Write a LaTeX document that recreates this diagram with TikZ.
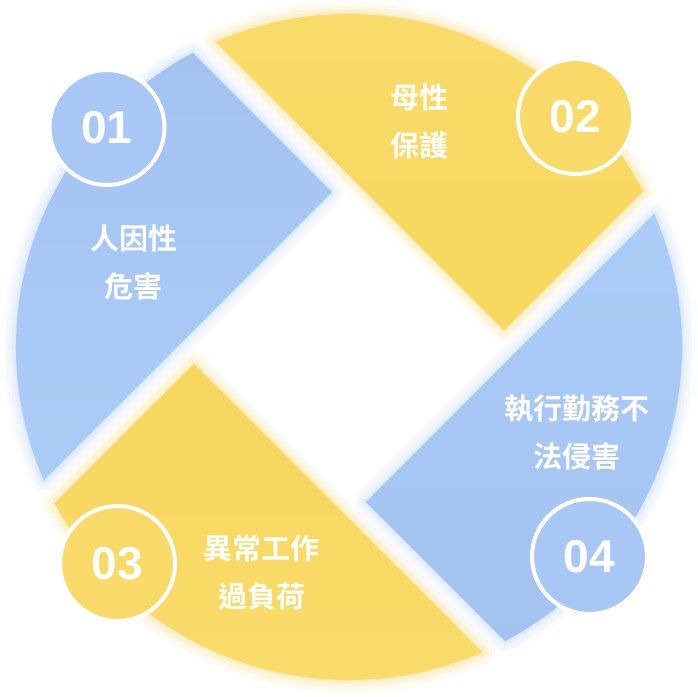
\documentclass[tikz,border=0pt]{standalone}
\usepackage{fontspec}
\newfontfamily\cjk[BoldFont={Noto Sans CJK TC Bold}]{Noto Sans CJK TC}
\newfontfamily\numfont{Liberation Sans}
\definecolor{blueA}{HTML}{A3C2F0}
\definecolor{blueB}{HTML}{ACCCF8}
\definecolor{blueC}{HTML}{A8C7F4}
\definecolor{yelA}{HTML}{F8D65C}
\definecolor{yelB}{HTML}{F9DC6D}
\definecolor{yelC}{HTML}{F9DA68}
\newcommand{\segglow}[5]{%
  \foreach \w/\o in {26/0.05,20/0.07,14/0.09,8/0.12,3/0.15}{%
    \draw[draw=#5, line width=\w, opacity=\o, line join=round]
      #1 -- #2 arc[start angle=#3, end angle=#4, radius=333] -- cycle;}%
}
\newcommand{\segfill}[6]{%
  \shade[top color=#5, bottom color=#6]
    #1 -- #2 arc[start angle=#3, end angle=#4, radius=333] -- cycle;%
}
\tikzset{
  numcirc/.style={circle, draw=white, line width=4pt, minimum size=115pt,
    inner sep=0pt, text=white, font=\numfont\bfseries\fontsize{46}{46}\selectfont},
  label/.style={text=white, align=center, inner sep=0pt,
    font=\cjk\bfseries\fontsize{29}{48}\selectfont}
}
\begin{document}
\begin{tikzpicture}[x=1pt,y=1pt]
\useasboundingbox (-349,-350) rectangle (348,347);
\fill[white] (-349,-350) rectangle (348,347);
% glows
\segglow{(-17,155)}{(-156.1,294.1)}{117.96}{203.58}{blueB}
\segglow{(155,17)}{(294.1,156.1)}{27.96}{113.58}{yelA}
\segglow{(17,-155)}{(156.1,-294.1)}{-62.04}{23.58}{blueB}
\segglow{(-155,-17)}{(-294.1,-156.1)}{207.96}{293.58}{yelA}
% fills
\segfill{(-17,155)}{(-156.1,294.1)}{117.96}{203.58}{blueA}{blueB}
\segfill{(155,17)}{(294.1,156.1)}{27.96}{113.58}{yelB}{yelA}
\segfill{(17,-155)}{(156.1,-294.1)}{-62.04}{23.58}{blueB}{blueA}
\segfill{(-155,-17)}{(-294.1,-156.1)}{207.96}{293.58}{yelA}{yelB}
% number circles
\node[numcirc, fill=blueC] (n1) at (-242,219.5) {01};
\node[numcirc, fill=yelC] (n2) at (226.5,230.5) {02};
\node[numcirc, fill=yelC] (n3) at (-231.5,-216.5) {03};
\node[numcirc, fill=blueC] (n4) at (240.5,-209.5) {04};
% labels
\node[label] (t1) at (-215,84) {人因性\\危害};
\node[label] (t2) at (70.5,226) {母性\\保護};
\node[label] (t3) at (-87,-225.5) {異常工作\\過負荷};
\node[label] (t4) at (228,-85) {執行勤務不\\法侵害};
\end{tikzpicture}
\end{document}
